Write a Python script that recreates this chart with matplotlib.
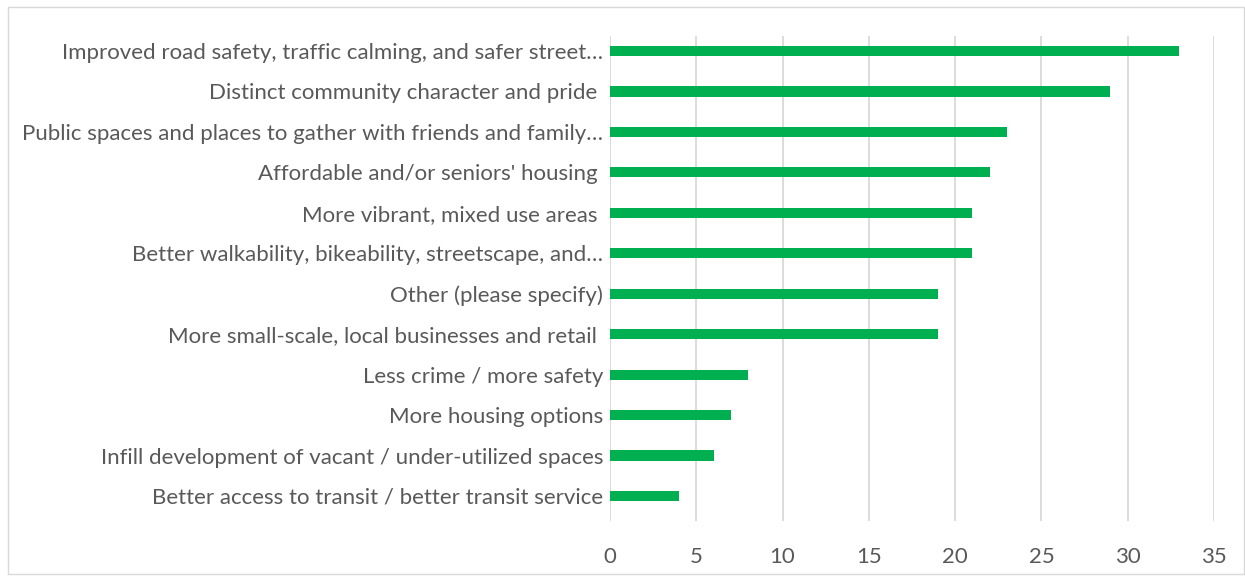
import matplotlib.pyplot as plt
from matplotlib.patches import Rectangle

plt.rcParams['font.family'] = ['Lato', 'DejaVu Sans']

categories = [
    'Improved road safety, traffic calming, and safer street\u2026',
    'Distinct community character and pride ',
    'Public spaces and places to gather with friends and family\u2026',
    "Affordable and/or seniors' housing ",
    'More vibrant, mixed use areas ',
    'Better walkability, bikeability, streetscape, and\u2026',
    'Other (please specify)',
    'More small-scale, local businesses and retail ',
    'Less crime / more safety',
    'More housing options',
    'Infill development of vacant / under-utilized spaces',
    'Better access to transit / better transit service',
]
values = [33, 29, 23, 22, 21, 21, 19, 19, 8, 7, 6, 4]
xticks = [0, 5, 10, 15, 20, 25, 30, 35]

W, H = 1245, 577
fig = plt.figure(figsize=(W / 100, H / 100), dpi=100)
# plot area in pixels: x 610..1214, y 36..521
ax = fig.add_axes([610 / W, 1 - 521 / H, 604 / W, 485 / H])

pos = list(range(len(values)))[::-1]
ax.barh(pos, values, height=0.25, color='#00B050', zorder=3)

ax.set_xlim(0, 35)
ax.set_ylim(-0.618, 11.371)
ax.set_xticks(xticks)
ax.set_yticks(pos)
ax.set_yticklabels(categories)
ax.tick_params(axis='both', length=0, colors='#595959', labelsize=16)
ax.tick_params(axis='x', pad=19)
ax.tick_params(axis='y', pad=5)
ax.grid(axis='x', color='#D9D9D9', linewidth=1.3, zorder=0)
for s in ax.spines.values():
    s.set_visible(False)

fig.patches.append(Rectangle((8 / W, 3 / H), 1 - 9 / W, 1 - 10 / H,
                             transform=fig.transFigure, fill=False,
                             edgecolor='#D9D9D9', linewidth=1))

fig.savefig('out.png', dpi=100)
